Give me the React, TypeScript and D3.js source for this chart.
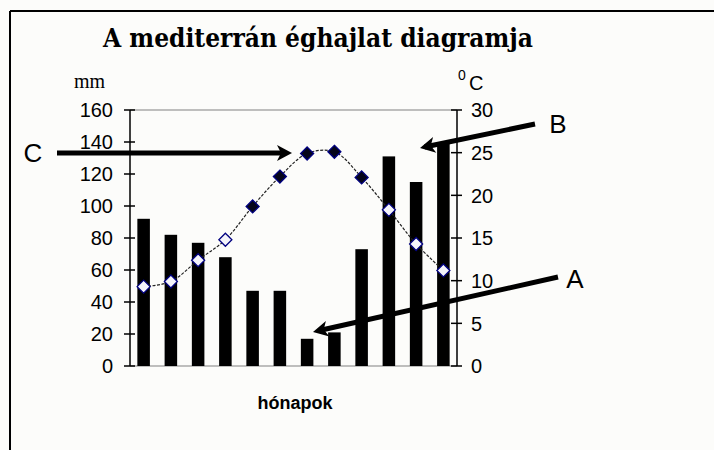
import React from "react";
import * as d3 from "d3";

const months = ["I", "II", "III", "IV", "V", "VI", "VII", "VIII", "IX", "X", "XI", "XII"];
const precipitation = [92, 82, 77, 68, 47, 47, 17, 21, 73, 131, 115, 140];
const temperature = [9.3, 9.9, 12.4, 14.8, 18.7, 22.2, 24.9, 25.1, 22.1, 18.3, 14.3, 11.2];
const filledMarkers = [false, false, false, false, true, true, true, true, true, false, false, false];
const leftTicks = [0, 20, 40, 60, 80, 100, 120, 140, 160];
const rightTicks = [0, 5, 10, 15, 20, 25, 30];
const title = "A mediterrán éghajlat diagramja";
const leftUnit = "mm";
const rightUnitSup = "0";
const rightUnit = "C";
const xLabel = "hónapok";

// annotation arrows (pixel layout)
const arrows = [
  { label: "C", lx: 33, ly: 153, x1: 57, y1: 153, x2: 292, y2: 153 },
  { label: "B", lx: 558, ly: 124, x1: 535, y1: 124, x2: 420, y2: 148 },
  { label: "A", lx: 575, ly: 279, x1: 558, y1: 277, x2: 313, y2: 332 },
];

const W = 714;
const H = 450;
const PL = 130;
const PR = 457;
const PT = 110;
const PB = 366;

export default function App() {
  const x = d3.scaleBand<string>().domain(months).range([PL, PR]).padding(0);
  const yL = d3.scaleLinear().domain([0, 160]).range([PB, PT]);
  const yR = d3.scaleLinear().domain([0, 30]).range([PB, PT]);
  const barW = x.bandwidth() * 0.46;
  const cx = (m: string) => (x(m) as number) + x.bandwidth() / 2;

  const line = d3
    .line<number>()
    .x((_, i) => cx(months[i]))
    .y((d) => yR(d))
    .curve(d3.curveCatmullRom.alpha(0.5));

  const sans = "'Liberation Sans', Arial, sans-serif";
  const serif = "'DejaVu Serif', 'Liberation Serif', serif";

  const arrowHead = (x1: number, y1: number, x2: number, y2: number) => {
    const a = Math.atan2(y2 - y1, x2 - x1);
    const len = 15;
    const hw = 8;
    const bx = x2 - len * Math.cos(a);
    const by = y2 - len * Math.sin(a);
    const px = -Math.sin(a);
    const py = Math.cos(a);
    return `M${x2},${y2} L${bx + px * hw},${by + py * hw} L${bx + Math.cos(a) * 4},${by + Math.sin(a) * 4} L${bx - px * hw},${by - py * hw} Z`;
  };

  return (
    <svg
      width={W}
      height={H}
      style={{ position: "absolute", left: 0, top: 0 }}
      xmlns="http://www.w3.org/2000/svg"
    >
      <rect x={0} y={0} width={W} height={H} fill="#fcfcfa" />
      {/* frame */}
      <line x1={10} y1={11} x2={W} y2={11} stroke="#000" strokeWidth={2} />
      <line x1={10} y1={11} x2={10} y2={H} stroke="#000" strokeWidth={2} />

      <text
        x={103}
        y={47}
        fontFamily={serif}
        fontWeight="bold"
        fontSize={26}
        textLength={430}
        lengthAdjust="spacingAndGlyphs"
        fill="#000"
      >
        {title}
      </text>

      <text x={74} y={88} fontFamily="'Liberation Serif', serif" fontSize={20} fill="#000">
        {leftUnit}
      </text>
      <text x={458} y={80} fontFamily={sans} fontSize={14} fill="#000">
        {rightUnitSup}
      </text>
      <text x={469} y={90} fontFamily={sans} fontSize={20} fill="#000">
        {rightUnit}
      </text>

      {/* plot frame lines */}
      <line x1={PL} y1={PT} x2={PR} y2={PT} stroke="#808080" strokeWidth={1} />
      <line x1={PL} y1={PB} x2={PR} y2={PB} stroke="#808080" strokeWidth={1} />

      {/* bars */}
      {precipitation.map((v, i) => (
        <rect
          key={months[i]}
          x={cx(months[i]) - barW / 2}
          y={yL(v)}
          width={barW}
          height={PB - yL(v)}
          fill="#000"
        />
      ))}

      {/* left axis */}
      <line x1={PL} y1={PT} x2={PL} y2={PB} stroke="#000" strokeWidth={1.5} />
      {leftTicks.map((t) => (
        <g key={"l" + t}>
          <line x1={PL - 6} x2={PL + 5} y1={yL(t)} y2={yL(t)} stroke="#000" strokeWidth={1.5} />
          <text
            x={113}
            y={yL(t)}
            dy="0.36em"
            textAnchor="end"
            fontFamily={sans}
            fontSize={20}
            fill="#000"
          >
            {t}
          </text>
        </g>
      ))}

      {/* right axis */}
      <line x1={PR} y1={PT} x2={PR} y2={PB} stroke="#000" strokeWidth={1.5} />
      {rightTicks.map((t) => (
        <g key={"r" + t}>
          <line x1={PR - 6} x2={PR + 5} y1={yR(t)} y2={yR(t)} stroke="#000" strokeWidth={1.5} />
          <text
            x={471}
            y={yR(t)}
            dy="0.36em"
            textAnchor="start"
            fontFamily={sans}
            fontSize={20}
            fill="#000"
          >
            {t}
          </text>
        </g>
      ))}

      {/* temperature line */}
      <path
        d={line(temperature) || ""}
        fill="none"
        stroke="#222"
        strokeWidth={1.2}
        strokeDasharray="3,1.5"
      />
      {temperature.map((v, i) => {
        const px = cx(months[i]);
        const py = yR(v);
        const r = 6.5;
        return (
          <path
            key={"m" + i}
            d={`M${px},${py - r} L${px + r},${py} L${px},${py + r} L${px - r},${py} Z`}
            fill={filledMarkers[i] ? "#05051a" : "#f4f4fa"}
            stroke="#000080"
            strokeWidth={1.3}
          />
        );
      })}

      <text
        x={295}
        y={409}
        textAnchor="middle"
        fontFamily={sans}
        fontWeight="bold"
        fontSize={18}
        fill="#000"
      >
        {xLabel}
      </text>

      {/* annotation arrows */}
      {arrows.map((a) => (
        <g key={a.label}>
          <line x1={a.x1} y1={a.y1} x2={a.x2 - (a.x2 - a.x1) * 0.04} y2={a.y2 - (a.y2 - a.y1) * 0.04} stroke="#000" strokeWidth={5} />
          <path d={arrowHead(a.x1, a.y1, a.x2, a.y2)} fill="#000" />
          <text
            x={a.lx}
            y={a.ly}
            dy="0.36em"
            textAnchor="middle"
            fontFamily={sans}
            fontSize={26}
            fill="#000"
          >
            {a.label}
          </text>
        </g>
      ))}
    </svg>
  );
}
